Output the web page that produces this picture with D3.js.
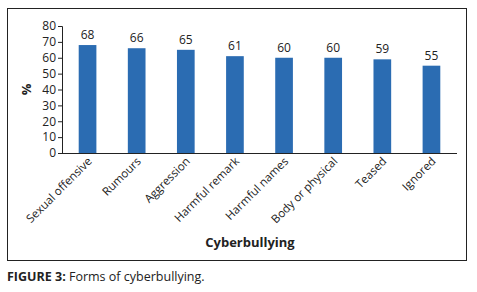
<!DOCTYPE html>
<html>
<head>
<meta charset="utf-8" />
<title>Forms of cyberbullying</title>
<style>
body { margin: 0; background: #fff; }
svg { display: block; }
</style>
</head>
<body>
<svg id="svg" width="477" height="292"></svg>
<script src="https://d3js.org/d3.v7.min.js"></script>
<script>
var categories = ["Sexual offensive", "Rumours", "Aggression", "Harmful remark",
  "Harmful names", "Body or physical", "Teased", "Ignored"];
var percents = [68, 66, 65, 61, 60, 60, 59, 55];
var yTicks = [0, 10, 20, 30, 40, 50, 60, 70, 80];

var font = "'Open Sans', 'Liberation Sans', sans-serif";
var svg = d3.select("#svg");

// frame round the chart
svg.append("rect")
  .attr("x", 7.5).attr("y", 8.5)
  .attr("width", 459).attr("height", 252)
  .attr("fill", "none").attr("stroke", "#222").attr("stroke-width", 1);

var plotL = 62, plotR = 457, plotT = 26, plotB = 153;

var x = d3.scaleBand().domain(categories).range([plotL, plotR]).paddingInner(0.64).paddingOuter(0.34);
var y = d3.scaleLinear().domain([0, 80]).range([plotB, plotT]);

// bars
svg.selectAll("rect.bar")
  .data(percents)
  .enter().append("rect")
  .attr("class", "bar")
  .attr("x", (d, i) => x(categories[i]))
  .attr("y", d => y(d))
  .attr("width", x.bandwidth())
  .attr("height", d => y(0) - y(d))
  .attr("fill", "#2b6cb2");

// value labels
svg.selectAll("text.val")
  .data(percents)
  .enter().append("text")
  .attr("class", "val")
  .attr("x", (d, i) => x(categories[i]) + x.bandwidth() / 2)
  .attr("y", d => y(d) - 6)
  .attr("text-anchor", "middle")
  .attr("font-family", font)
  .attr("font-size", 12)
  .attr("fill", "#222")
  .text(d => d);

// y axis
var yAxis = svg.append("g")
  .attr("transform", "translate(" + plotL + ",0)")
  .call(d3.axisLeft(y).tickValues(yTicks).tickSize(4).tickPadding(2));
yAxis.selectAll("text").attr("font-family", font).attr("font-size", 12).attr("fill", "#222");
yAxis.selectAll("line, path").attr("stroke", "#222");

// x axis
var xAxis = svg.append("g")
  .attr("transform", "translate(0," + plotB + ")")
  .call(d3.axisBottom(x).tickSize(0).tickSizeOuter(0).tickPadding(0));
xAxis.select("path").attr("stroke", "#222").attr("d", "M" + plotL + ",0.5H" + plotR);
xAxis.selectAll("text")
  .attr("font-family", font).attr("font-size", 11.5).attr("fill", "#222")
  .attr("text-anchor", "end")
  .attr("dy", 0)
  .attr("transform", "translate(5,9) rotate(-45)");

// axis titles
svg.append("text")
  .attr("transform", "translate(31," + ((plotT + plotB) / 2) + ") rotate(-90)")
  .attr("text-anchor", "middle")
  .attr("font-family", font).attr("font-size", 13).attr("font-weight", "bold")
  .attr("fill", "#222")
  .text("%");

svg.append("text")
  .attr("x", 250).attr("y", 247)
  .attr("text-anchor", "middle")
  .attr("font-family", font).attr("font-size", 13).attr("font-weight", "bold")
  .attr("fill", "#222")
  .text("Cyberbullying");

// caption
var cap = svg.append("text")
  .attr("x", 7).attr("y", 281)
  .attr("font-family", font).attr("font-size", 12.5).attr("fill", "#222");
cap.append("tspan").attr("font-weight", "bold").text("FIGURE 3:");
cap.append("tspan").text(" Forms of cyberbullying.");
</script>
</body>
</html>
